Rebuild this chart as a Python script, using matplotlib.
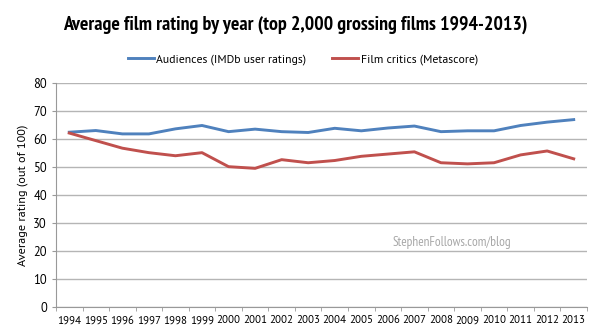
import matplotlib
matplotlib.use("Agg")
import matplotlib.pyplot as plt
from matplotlib.ticker import FixedLocator, NullFormatter

plt.rcParams['font.family'] = ['PT Sans', 'DejaVu Sans']

# Datos: valoración media por año
anios = [str(a) for a in range(1994, 2014)]
audiencias = [62.4, 63.0, 61.8, 61.8, 63.6, 64.8, 62.6, 63.5, 62.6, 62.3,
              63.8, 62.9, 63.9, 64.6, 62.6, 62.9, 62.9, 64.8, 66.0, 66.9]
criticos = [62.1, 59.4, 56.7, 55.1, 54.0, 55.1, 50.1, 49.5, 52.6, 51.5,
            52.3, 53.8, 54.6, 55.4, 51.5, 51.1, 51.5, 54.3, 55.7, 52.9]
ticks_y = [0, 10, 20, 30, 40, 50, 60, 70, 80]

fig = plt.figure(figsize=(6, 3.31), dpi=100)
ax = fig.add_axes([0.0933, 0.0725, 0.885, 0.677])

x = list(range(len(anios)))
l1, = ax.plot(x, audiencias, color='#4F81BD', lw=2.1, solid_joinstyle='round')
l2, = ax.plot(x, criticos, color='#C0504D', lw=2.1, solid_joinstyle='round')

ax.set_xlim(-0.5, len(anios) - 0.5)
ax.set_ylim(0, 80)
ax.set_yticks(ticks_y)
ax.set_xticks(x)
ax.set_xticklabels(anios, fontsize=7.8)
ax.tick_params(axis='x', which='major', length=0, pad=6)
ax.xaxis.set_minor_locator(FixedLocator([i - 0.5 for i in range(len(anios) + 1)]))
ax.xaxis.set_minor_formatter(NullFormatter())
ax.tick_params(axis='x', which='minor', length=3, color='#999999')
ax.tick_params(axis='y', length=3, color='#999999', labelsize=9)

ax.grid(axis='y', color='#B5B5B5', lw=1)
ax.set_axisbelow(True)
for lado in ['top', 'right']:
    ax.spines[lado].set_visible(False)
for lado in ['left', 'bottom']:
    ax.spines[lado].set_color('#999999')

ax.set_ylabel('Average rating (out of 100)', fontsize=8.8, labelpad=4)

fig.text(0.493, 0.925, 'Average film rating by year (top 2,000 grossing films 1994-2013)',
         ha='center', va='center', fontsize=14.3, fontweight='bold',
         family=['PT Sans Narrow', 'DejaVu Sans'])

fig.legend([l1, l2], ['Audiences (IMDb user ratings)', 'Film critics (Metascore)'],
           loc='center', bbox_to_anchor=(0.505, 0.82), ncol=2, frameon=False,
           fontsize=8.5, handlelength=2.2, handletextpad=0.2, columnspacing=2.2)

ax.text(0.745, 0.29, 'StephenFollows.com/blog', transform=ax.transAxes,
        ha='center', va='center', fontsize=9.5, color='#A8A8A8',
        family=['PT Sans Narrow', 'DejaVu Sans'])

plt.savefig('out.png', dpi=100)
